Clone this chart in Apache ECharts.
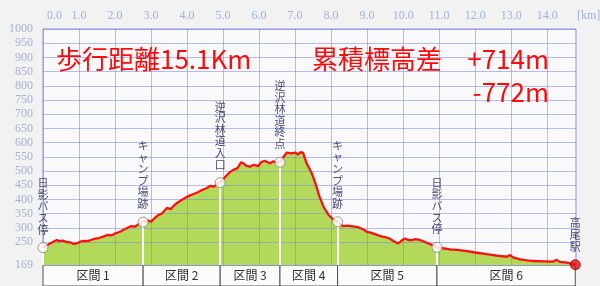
<!DOCTYPE html>
<html><head><meta charset="utf-8">
<script src="https://cdn.jsdelivr.net/npm/echarts@6/dist/echarts.min.js"></script>
<style>html,body{margin:0;padding:0;background:#f2f2f2}#c{width:600px;height:286px}</style>
</head><body><div id="c"></div>
<script>
// distance (km) and elevation (m) along the track
const kmData = [0.00,0.10,0.20,0.30,0.38,0.45,0.55,0.65,0.75,0.85,0.95,1.05,1.15,1.25,1.35,1.45,1.55,1.67,1.80,1.90,2.00,2.14,2.25,2.35,2.45,2.55,2.65,2.78,
2.90,3.00,3.10,3.20,3.30,3.44,3.55,3.65,3.75,3.85,4.00,4.10,4.20,4.30,4.40,4.55,4.65,4.75,4.85,4.92,
5.00,5.10,5.20,5.30,5.40,5.50,5.56,5.65,5.75,5.85,5.97,6.05,6.15,6.20,6.30,6.40,6.50,6.58,6.65,6.77,6.90,7.00,7.08,7.15,7.22,
7.32,7.46,7.56,7.68,7.79,7.93,8.05,8.18,8.33,8.45,8.60,8.75,8.90,8.99,9.10,9.27,9.40,9.55,9.64,9.75,9.86,9.96,10.05,10.10,10.15,10.24,10.35,10.47,10.60,10.70,10.80,10.94,
11.10,11.30,11.50,11.77,12.00,12.32,12.60,12.88,12.97,13.05,13.25,13.40,13.60,13.90,14.17,14.26,14.35,14.55,14.78];
const elevData = [230,238,245,252,257,253,255,250,249,243,246,252,254,253,258,262,264,269,275,273,280,286,294,300,306,304,312,320,
326,322,334,345,350,370,366,380,390,398,409,415,420,425,432,440,448,445,455,459,
470,485,497,505,510,530,528,518,515,522,517,530,536,533,527,534,529,531,545,565,562,565,558,566,565,
527,493,458,409,374,345,330,321,306,308,305,302,294,286,283,275,270,265,261,252,245,255,262,269,257,257,260,257,250,245,240,231,
228,224,222,218,213,207,202,198,204,196,189,186,183,182,181,187,180,177,170];

// waypoints
const wpNames = ['日影バス停','キャンプ場跡','逆沢林道入口','逆沢林道終点','キャンプ場跡','日影バス停','高尾駅'];
const wpKm = [0, 2.78, 4.92, 6.58, 8.18, 10.94, 14.78];
const wpElev = [230, 320, 459, 531, 321, 231, 170];

// sections
const sectionNames = ['区間 1','区間 2','区間 3','区間 4','区間 5','区間 6'];
const sectionBounds = [0, 2.78, 4.92, 6.58, 8.18, 10.94, 14.78];

// axes
const xTicks = [0,1,2,3,4,5,6,7,8,9,10,11,12,13,14];
const xTickLabels = ['0.0','1.0','2.0','3.0','4.0','5.0','6.0','7.0','8.0','9.0','10.0','11.0','12.0','13.0','14.0'];
const yTicks = [169,250,300,350,400,450,500,550,600,650,700,750,800,850,900,950,1000];
const xMax = 14.8, yMin = 169, yMax = 1000;
const xUnit = '[km]';

// annotations
const distText = '歩行距離15.1Km';
const gainLabel = '累積標高差';
const gainUp = '+714m';
const gainDown = '-772m';

const lineData = kmData.map((k,i)=>[k, elevData[i]]);
const lastIdx = wpNames.length - 1;
const wpData = wpNames.map((n,i)=>({
  name: n, value: [wpKm[i], wpElev[i]],
  itemStyle: i === lastIdx ? {color:'#e01010', borderColor:'#a00000'} : undefined
}));

const chart = echarts.init(document.getElementById('c'), null, {renderer:'canvas'});
const labelColor = '#a4b0d4';
const tickFont = '"Liberation Serif", serif';
const redFont = '26px "Noto Sans CJK JP"';
const baseGraphic = [
  {type:'text', left:577, top:10, z:10, style:{text:xUnit, fill:labelColor, font:'12px "Liberation Serif", serif'}},
  {type:'text', left:56, top:46, z:10, style:{text:distText, fill:'#ff0a0a', font:redFont}},
  {type:'text', left:312, top:46, z:10, style:{text:gainLabel, fill:'#ff0a0a', font:redFont}},
  {type:'text', right:51, top:46, z:10, style:{text:gainUp, fill:'#ff0a0a', font:redFont, align:'right'}},
  {type:'text', right:51, top:79, z:10, style:{text:gainDown, fill:'#ff0a0a', font:redFont, align:'right'}}
];
chart.setOption({
  backgroundColor: '#f2f2f2',
  animation: false,
  grid: [
    {left:43, top:29, right:24, bottom:21, show:true, backgroundColor:'#f9f9fc', borderColor:'#8890d8', borderWidth:1},
    {left:43, top:265, right:24, height:26, show:false}
  ],
  xAxis: [{
    type:'value', gridIndex:0, position:'top', min:0, max:xMax, z:3,
    axisLine:{show:false}, axisTick:{show:false, customValues:xTicks},
    axisLabel:{show:false},
    splitLine:{show:true, lineStyle:{color:'rgba(120,140,220,0.55)', width:1}}
  },{
    type:'value', gridIndex:1, min:0, max:xMax, show:false
  }],
  yAxis: [{
    type:'value', gridIndex:0, min:yMin, max:yMax, z:3,
    axisLine:{show:false}, axisTick:{show:false, customValues:yTicks},
    axisLabel:{customValues:yTicks, interval:0, hideOverlap:false, color:labelColor, fontFamily:tickFont, fontSize:12, margin:10,
      formatter: v => String(Math.round(v))},
    splitLine:{show:true, lineStyle:{color:'rgba(120,140,220,0.55)', width:1}}
  },{
    type:'value', gridIndex:1, min:0, max:1, show:false
  }],
  graphic: baseGraphic,
  series: [
    {type:'line', xAxisIndex:0, yAxisIndex:0, data:lineData, showSymbol:false, z:2,
     lineStyle:{width:0}, areaStyle:{color:'#b3d95a', opacity:1, origin:'start'}},
    {type:'line', xAxisIndex:0, yAxisIndex:0, data:lineData, showSymbol:false, z:4,
     lineStyle:{color:'#ff1010', width:2.3}},
    {type:'scatter', xAxisIndex:0, yAxisIndex:0, data:wpData, z:6,
     symbol:'circle', symbolSize:10,
     itemStyle:{color:'#ffffff', borderColor:'#808080', borderWidth:1},
     label:{show:true, position:'top', distance:7, color:'#20204a', fontFamily:'Noto Sans CJK JP', fontSize:11, lineHeight:11.6,
       formatter: p => p.name.split('').join('\n')},
     markLine:{silent:true, symbol:'none', z:5, label:{show:false},
       lineStyle:{color:'#ffffff', width:2, type:'solid'},
       data: wpKm.map((k,i)=>[{coord:[k, yMin]},{coord:[k, wpElev[i]]}])}
    },
    {type:'line', xAxisIndex:1, yAxisIndex:1, data:[[0,0]], showSymbol:false, lineStyle:{opacity:0},
     markArea:{silent:true,
       itemStyle:{color:'#fbfbfb', borderColor:'#505050', borderWidth:1},
       label:{show:true, position:'inside', color:'#303030', fontFamily:'Noto Sans CJK JP', fontSize:12},
       data: sectionNames.map((n,i)=>[{name:n, xAxis:sectionBounds[i]},{xAxis:sectionBounds[i+1]}])}
    }
  ]
});
// top distance tick labels, placed through the x axis scale
const tickGraphic = xTicks.map((v,i)=>{
  const px = chart.convertToPixel({xAxisIndex:0}, v) + (i === 0 ? 11.5 : 0);
  return {type:'text', x:px, y:16, z:10, silent:true,
    style:{text:xTickLabels[i], fill:labelColor, font:'12px "Liberation Serif", serif', align:'center', verticalAlign:'middle'}};
});
chart.setOption({graphic: baseGraphic.concat(tickGraphic)});
</script></body></html>
